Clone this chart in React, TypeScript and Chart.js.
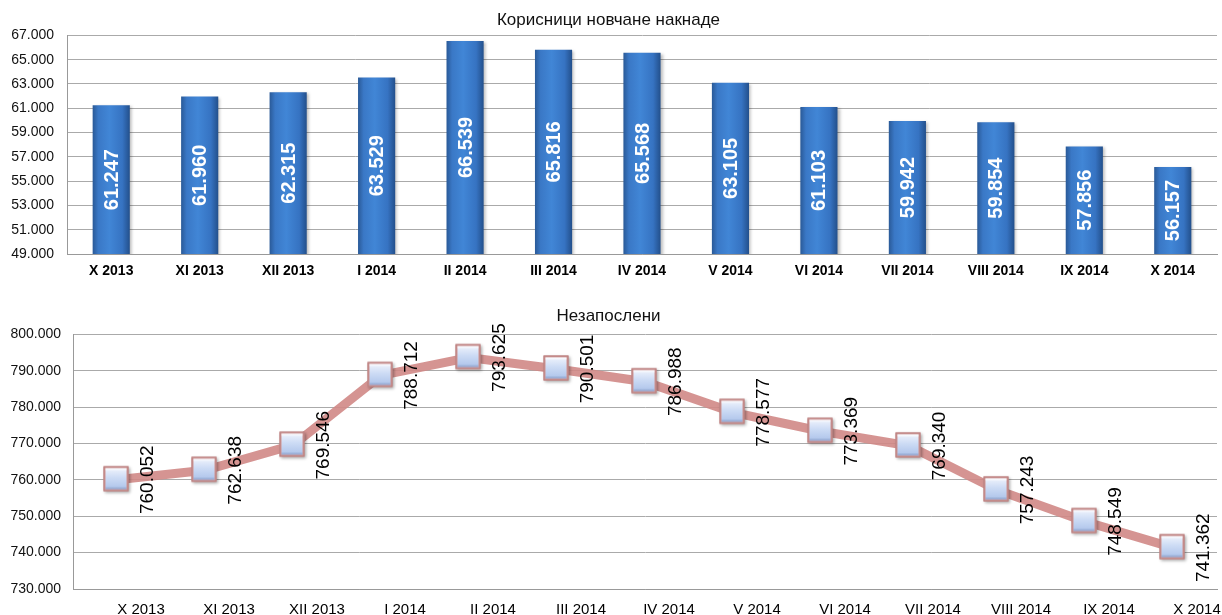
import React, { useEffect, useRef } from "react";
import { Chart, registerables } from "chart.js";

Chart.register(...registerables);

const categoriesTop = ["X 2013", "XI 2013", "XII 2013", "I 2014", "II 2014", "III 2014", "IV 2014", "V 2014", "VI 2014", "VII 2014", "VIII 2014", "IX 2014", "X 2014"];
const beneficiaries = [61247, 61960, 62315, 63529, 66539, 65816, 65568, 63105, 61103, 59942, 59854, 57856, 56157];
const categoriesBottom = ["X 2013", "XI 2013", "XII 2013", "I 2014", "II 2014", "III 2014", "IV 2014", "V 2014", "VI 2014", "VII 2014", "VIII 2014", "IX 2014", "X 2014"];
const unemployed = [760052, 762638, 769546, 788712, 793625, 790501, 786988, 778577, 773369, 769340, 757243, 748549, 741362];

const titleTop = "Корисници новчане накнаде";
const titleBottom = "Незапослени";

const FONT = "'Liberation Sans', Arial, sans-serif";

function fmt(n: number): string {
  const v = Math.round(n);
  const th = Math.floor(v / 1000);
  const rest = v % 1000;
  return th + "." + String(rest).padStart(3, "0");
}

function makeMarker(): HTMLCanvasElement {
  const s = 34;
  const c = document.createElement("canvas");
  c.width = s;
  c.height = s;
  const g = c.getContext("2d")!;
  const side = 25;
  const x0 = (s - side) / 2 - 1;
  const y0 = (s - side) / 2 - 1;
  g.shadowColor = "rgba(0,0,0,0.35)";
  g.shadowBlur = 3;
  g.shadowOffsetX = 1.5;
  g.shadowOffsetY = 1.5;
  g.fillStyle = "#cf9593";
  g.fillRect(x0, y0, side, side);
  g.shadowColor = "transparent";
  const grad = g.createLinearGradient(0, y0, 0, y0 + side);
  grad.addColorStop(0, "#f6f8fe");
  grad.addColorStop(0.45, "#cddcf5");
  grad.addColorStop(1, "#a8bfe8");
  g.fillStyle = grad;
  g.fillRect(x0 + 2, y0 + 2, side - 4, side - 4);
  g.fillStyle = "rgba(255,255,255,0.55)";
  g.fillRect(x0 + 2, y0 + 2, side - 4, 2);
  g.fillStyle = "rgba(90,110,160,0.25)";
  g.fillRect(x0 + 2, y0 + side - 4, side - 4, 2);
  g.strokeStyle = "#b98080";
  g.lineWidth = 1;
  g.strokeRect(x0 + 0.5, y0 + 0.5, side - 1, side - 1);
  return c;
}

const barPlugin = {
  id: "barDecor",
  beforeDatasetsDraw(chart: any) {
    const ctx = chart.ctx;
    ctx.save();
    ctx.shadowColor = "rgba(0,0,0,0.28)";
    ctx.shadowBlur = 3;
    ctx.shadowOffsetX = 2;
    ctx.shadowOffsetY = 1;
  },
  afterDatasetsDraw(chart: any) {
    chart.ctx.restore();
  },
  afterDraw(chart: any) {
    const ctx = chart.ctx;
    const meta = chart.getDatasetMeta(0);
    const data = beneficiaries;
    const ys = chart.scales.y;
    ctx.save();
    ctx.shadowColor = "transparent";
    ctx.fillStyle = "#ffffff";
    ctx.font = `bold 20px ${FONT}`;
    ctx.textAlign = "center";
    ctx.textBaseline = "middle";
    meta.data.forEach((el: any, i: number) => {
      const top = ys.getPixelForValue(data[i]);
      const bottom = ys.bottom;
      const cy = (top + bottom) / 2;
      ctx.save();
      ctx.translate(el.x, cy);
      ctx.rotate(-Math.PI / 2);
      ctx.fillText(fmt(data[i]), 0, 1);
      ctx.restore();
    });
    ctx.restore();
  },
};

const linePlugin = {
  id: "lineLabels",
  afterDraw(chart: any) {
    const ctx = chart.ctx;
    const meta = chart.getDatasetMeta(0);
    const data = unemployed;
    ctx.save();
    ctx.fillStyle = "#000000";
    ctx.font = `19px ${FONT}`;
    ctx.textAlign = "center";
    ctx.textBaseline = "middle";
    meta.data.forEach((el: any, i: number) => {
      ctx.save();
      ctx.translate(el.x + 31, el.y);
      ctx.rotate(-Math.PI / 2);
      ctx.fillText(fmt(data[i]), 0, 0);
      ctx.restore();
    });
    ctx.restore();
  },
};

function barColor(context: any) {
  const chart = context.chart;
  const xs = chart.scales && chart.scales.x;
  if (!xs || context.dataIndex === undefined) return "#3a7acb";
  const cx = xs.getPixelForValue(context.dataIndex);
  if (!isFinite(cx)) return "#3a7acb";
  const w = 37;
  const g = chart.ctx.createLinearGradient(cx - w / 2, 0, cx + w / 2, 0);
  g.addColorStop(0, "#2a5a98");
  g.addColorStop(0.15, "#3a78c6");
  g.addColorStop(0.45, "#4186d6");
  g.addColorStop(0.8, "#3673c2");
  g.addColorStop(1, "#23508c");
  return g;
}

export default function App() {
  const topRef = useRef<HTMLCanvasElement>(null);
  const botRef = useRef<HTMLCanvasElement>(null);

  useEffect(() => {
    const marker = makeMarker();
    const top = new Chart(topRef.current!, {
      type: "bar",
      data: {
        labels: categoriesTop,
        datasets: [
          {
            data: beneficiaries,
            backgroundColor: barColor,
            borderWidth: 0,
            barPercentage: 0.42,
            categoryPercentage: 1,
          },
        ],
      },
      options: {
        responsive: false,
        animation: false,
        layout: { padding: { left: 0, right: 5, top: 0, bottom: 0 } },
        plugins: {
          legend: { display: false },
          tooltip: { enabled: false },
          title: {
            display: true,
            text: titleTop,
            color: "#111",
            font: { family: FONT, size: 17, weight: "normal" },
            padding: { top: 10, bottom: 5 },
          },
        },
        scales: {
          x: {
            grid: { display: false },
            border: { display: true, color: "#999", width: 1 },
            ticks: {
              color: "#000",
              font: { family: FONT, size: 14, weight: "bold" },
              padding: 1,
              maxRotation: 0,
              autoSkip: false,
            },
            afterFit: (s: any) => {
              s.height = 36;
              s.paddingLeft = 0;
              s.paddingRight = 0;
            },
          },
          y: {
            min: 49000,
            max: 67000,
            grid: { color: "#aaaaaa", drawTicks: false, lineWidth: 1 },
            border: { display: true, color: "#999", width: 1 },
            ticks: {
              stepSize: 2000,
              color: "#111",
              font: { family: FONT, size: 14 },
              padding: 13,
              callback: (v: any) => fmt(Number(v)),
            },
            afterFit: (s: any) => {
              s.width = 67;
            },
          },
        },
      },
      plugins: [barPlugin],
    } as any);

    const bot = new Chart(botRef.current!, {
      type: "line",
      data: {
        labels: categoriesBottom,
        datasets: [
          {
            data: unemployed,
            borderColor: "rgba(208,136,134,0.9)",
            borderWidth: 9,
            tension: 0,
            pointStyle: marker,
            pointRadius: 2,
            pointHoverRadius: 2,
            pointBorderWidth: 0,
            fill: false,
          },
        ],
      },
      options: {
        responsive: false,
        animation: false,
        layout: { padding: { left: 0, right: 5, top: 0, bottom: 0 } },
        plugins: {
          legend: { display: false },
          tooltip: { enabled: false },
          title: {
            display: true,
            text: titleBottom,
            color: "#111",
            font: { family: FONT, size: 17, weight: "normal" },
            padding: { top: 16, bottom: 8 },
          },
        },
        scales: {
          x: {
            offset: true,
            grid: { display: false },
            border: { display: true, color: "#999", width: 1 },
            ticks: {
              color: "#000",
              font: { family: FONT, size: 15 },
              padding: 4,
              labelOffset: 24,
              maxRotation: 0,
              autoSkip: false,
            },
            afterFit: (s: any) => {
              s.height = 26;
              s.paddingLeft = 0;
              s.paddingRight = 0;
            },
          },
          y: {
            min: 730000,
            max: 800000,
            grid: { color: "#aaaaaa", drawTicks: false, lineWidth: 1 },
            border: { display: true, color: "#999", width: 1 },
            ticks: {
              stepSize: 10000,
              color: "#111",
              font: { family: FONT, size: 14 },
              padding: 12,
              callback: (v: any) => fmt(Number(v)),
            },
            afterFit: (s: any) => {
              s.width = 73;
            },
          },
        },
      },
      plugins: [linePlugin],
    } as any);

    return () => {
      top.destroy();
      bot.destroy();
    };
  }, []);

  return (
    <div style={{ position: "absolute", left: 0, top: 0, width: 1222, height: 615, background: "#fff", overflow: "hidden" }}>
      <canvas ref={topRef} width={1222} height={290} style={{ position: "absolute", left: 0, top: 0, display: "block" }} />
      <canvas ref={botRef} width={1222} height={325} style={{ position: "absolute", left: 0, top: 290, display: "block" }} />
    </div>
  );
}
